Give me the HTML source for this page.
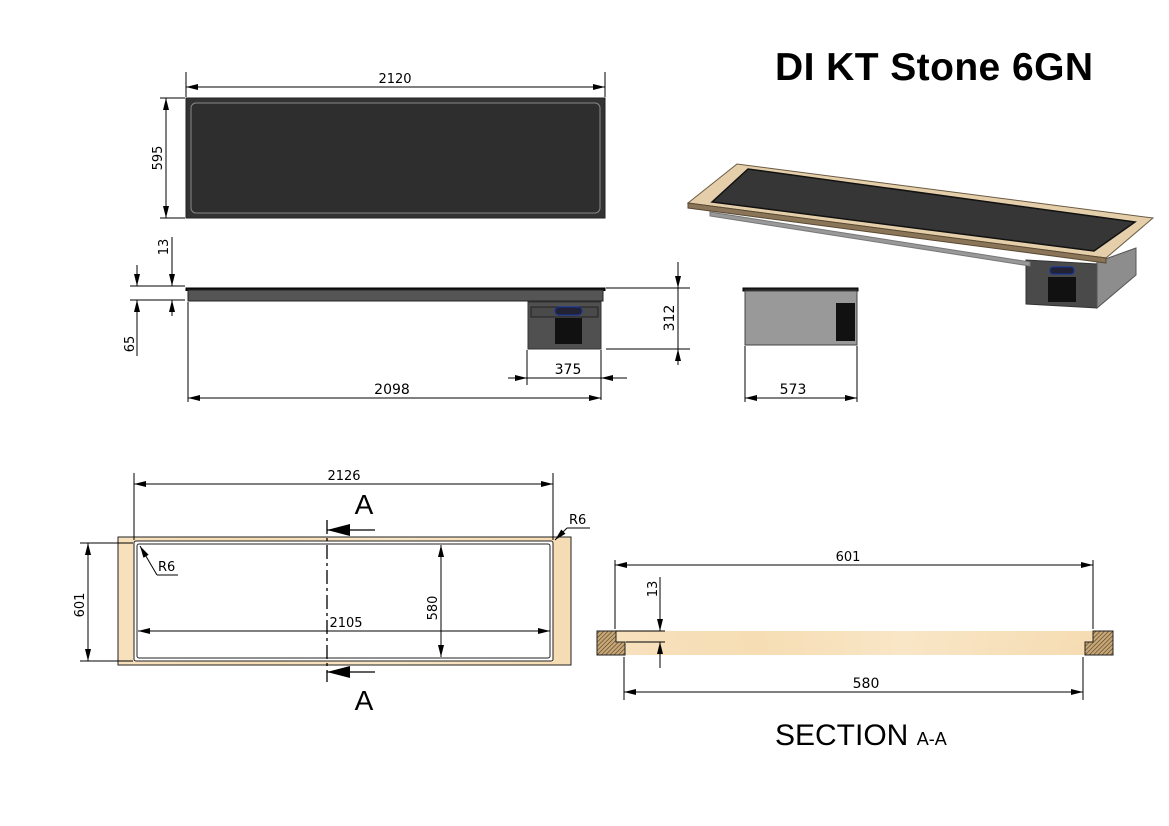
<!DOCTYPE html>
<html><head><style>
body{margin:0;background:#fff;}
svg{display:block;font-family:"DejaVu Sans","Liberation Sans",sans-serif;}
</style></head><body>
<svg width="1169" height="826" viewBox="0 0 1169 826" xmlns="http://www.w3.org/2000/svg">
<defs>
<marker id="ar" viewBox="0 0 12 6" refX="12" refY="3" markerWidth="12" markerHeight="6" orient="auto-start-reverse" markerUnits="userSpaceOnUse"><path d="M0,0L12,3L0,6z" fill="#000"/></marker>
<pattern id="hatch" width="3" height="3" patternUnits="userSpaceOnUse" patternTransform="rotate(45)"><rect width="3" height="3" fill="#c9a878"/><line x1="0" y1="0" x2="0" y2="3" stroke="#4a3a20" stroke-width="1.2"/></pattern>
<linearGradient id="wood" x1="0" x2="1"><stop offset="0" stop-color="#f7e0bc"/><stop offset="0.3" stop-color="#f6ddb4"/><stop offset="0.6" stop-color="#f9e6c6"/><stop offset="1" stop-color="#f5dcb3"/></linearGradient>
</defs>
<g stroke="#000" stroke-width="1" fill="none">
<text x="775" y="80" font-family="Liberation Sans,sans-serif" font-weight="bold" font-size="39" textLength="318" fill="#000" stroke="none">DI KT Stone 6GN</text>

<!-- Top view -->
<rect x="186" y="98" width="419" height="120" fill="#333" stroke="#222"/>
<rect x="191" y="103" width="409" height="110" rx="5" fill="#2e2e2e" stroke="#888"/>
<line x1="186" y1="72" x2="186" y2="97"/><line x1="605" y1="72" x2="605" y2="97"/>
<line x1="186" y1="87" x2="605" y2="87" marker-start="url(#ar)" marker-end="url(#ar)"/>
<text x="395" y="83" font-size="13" text-anchor="middle" fill="#000" stroke="none">2120</text>
<line x1="160" y1="98" x2="185" y2="98"/><line x1="160" y1="218" x2="185" y2="218"/>
<line x1="166" y1="98" x2="166" y2="218" marker-start="url(#ar)" marker-end="url(#ar)"/>
<text transform="translate(162,158) rotate(-90)" font-size="13" text-anchor="middle" fill="#000" stroke="none">595</text>

<!-- Side view -->
<rect x="186" y="288" width="419" height="2.5" fill="#111"/>
<rect x="188" y="290" width="415" height="11" fill="#555" stroke="#222"/>
<rect x="528" y="302" width="73" height="47" fill="#505050" stroke="#333"/>
<rect x="531" y="307" width="67" height="10" fill="#4a4a4a" stroke="#222"/>
<rect x="555" y="307" width="27" height="8" rx="4" fill="#223" stroke="#13a"/>
<rect x="555" y="318" width="27" height="26" fill="#111" stroke="none"/>
<line x1="606" y1="288" x2="690" y2="288"/><line x1="606" y1="349" x2="690" y2="349"/>
<line x1="678" y1="262" x2="678" y2="288" marker-end="url(#ar)"/>
<line x1="678" y1="365" x2="678" y2="349" marker-end="url(#ar)"/>
<line x1="678" y1="288" x2="678" y2="349"/>
<text transform="translate(674,318) rotate(-90)" font-size="14" text-anchor="middle" fill="#000" stroke="none">312</text>
<line x1="527" y1="350" x2="527" y2="385"/><line x1="601" y1="350" x2="601" y2="400"/>
<line x1="508" y1="378" x2="527" y2="378" marker-end="url(#ar)"/>
<line x1="627" y1="378" x2="601" y2="378" marker-end="url(#ar)"/>
<line x1="527" y1="378" x2="601" y2="378"/>
<text x="568" y="374" font-size="14" text-anchor="middle" fill="#000" stroke="none">375</text>
<line x1="188" y1="302" x2="188" y2="402"/>
<line x1="188" y1="398" x2="601" y2="398" marker-start="url(#ar)" marker-end="url(#ar)"/>
<text x="392" y="394" font-size="14" text-anchor="middle" fill="#000" stroke="none">2098</text>
<line x1="130" y1="286" x2="185" y2="286"/><line x1="130" y1="300" x2="185" y2="300"/>
<line x1="172" y1="237" x2="172" y2="286" marker-end="url(#ar)"/>
<line x1="172" y1="316" x2="172" y2="300" marker-end="url(#ar)"/>
<text transform="translate(168,247) rotate(-90)" font-size="13" text-anchor="middle" fill="#000" stroke="none">13</text>
<line x1="137" y1="265" x2="137" y2="286" marker-end="url(#ar)"/>
<line x1="137" y1="356" x2="137" y2="300" marker-end="url(#ar)"/>
<text transform="translate(134,344) rotate(-90)" font-size="13" text-anchor="middle" fill="#000" stroke="none">65</text>

<!-- End view -->
<rect x="743" y="288" width="115" height="3" fill="#222"/>
<rect x="745" y="291" width="112" height="54" fill="#999" stroke="#444"/>
<rect x="836" y="303" width="19" height="38" fill="#111" stroke="none"/>
<line x1="745" y1="346" x2="745" y2="402"/><line x1="857" y1="346" x2="857" y2="402"/>
<line x1="745" y1="398" x2="857" y2="398" marker-start="url(#ar)" marker-end="url(#ar)"/>
<text x="793" y="394" font-size="14" text-anchor="middle" fill="#000" stroke="none">573</text>

<!-- 3D view -->
<polygon points="1026,260 1097,264 1097,308 1026,304" fill="#4a4a4a" stroke="#333"/>
<polygon points="1097,262 1136,248 1136,275 1097,308" fill="#8d8d8d" stroke="#555"/>
<rect x="1048" y="277" width="28" height="25" fill="#111" stroke="none"/>
<rect x="1050" y="267" width="24" height="7" rx="3" fill="#223" stroke="#13a"/>
<polygon points="710,212 1030,262 1030,266 710,216" fill="#999" stroke="#777"/>
<polygon points="688,203 737,164 1153,218 1106,258" fill="#e5cfaa" stroke="#6a5a44"/>
<polygon points="688,203 1106,258 1106,263 688,208" fill="#8a7558" stroke="#5a4a34"/>
<polygon points="712,202 748,169 1135,222 1094,251" fill="#363636" stroke="#111" stroke-width="1.5"/>

<!-- Bottom frame plan -->
<rect x="118" y="537" width="453" height="128" fill="url(#wood)" stroke="#222"/>
<rect x="134" y="541" width="419" height="120" rx="2" fill="#fff" stroke="#222"/>
<rect x="137" y="544" width="413" height="114" rx="2" fill="none" stroke="#222"/>
<line x1="134" y1="473" x2="134" y2="540"/><line x1="553" y1="473" x2="553" y2="540"/>
<line x1="134" y1="484" x2="553" y2="484" marker-start="url(#ar)" marker-end="url(#ar)"/>
<text x="344" y="480" font-size="13" text-anchor="middle" fill="#000" stroke="none">2126</text>
<line x1="80" y1="543" x2="133" y2="543"/><line x1="80" y1="661" x2="133" y2="661"/>
<line x1="88" y1="543" x2="88" y2="661" marker-start="url(#ar)" marker-end="url(#ar)"/>
<text transform="translate(84,605) rotate(-90)" font-size="13" text-anchor="middle" fill="#000" stroke="none">601</text>
<line x1="441" y1="545" x2="441" y2="657" marker-start="url(#ar)" marker-end="url(#ar)"/>
<text transform="translate(437,608) rotate(-90)" font-size="13" text-anchor="middle" fill="#000" stroke="none">580</text>
<line x1="138" y1="631" x2="550" y2="631" marker-start="url(#ar)" marker-end="url(#ar)"/>
<text x="346" y="627" font-size="13" text-anchor="middle" fill="#000" stroke="none">2105</text>
<line x1="327" y1="520" x2="327" y2="682" stroke-dasharray="14,4,3,4" stroke-width="1.3"/>
<polygon points="327,530 350,524 350,536" fill="#000" stroke="none"/>
<line x1="327" y1="530" x2="375" y2="530" stroke-width="1.3"/>
<polygon points="327,672 350,666 350,678" fill="#000" stroke="none"/>
<line x1="327" y1="672" x2="375" y2="672" stroke-width="1.3"/>
<text x="364" y="514" font-size="28" text-anchor="middle" fill="#000" stroke="none" font-family="Liberation Sans,sans-serif">A</text>
<text x="364" y="710" font-size="28" text-anchor="middle" fill="#000" stroke="none" font-family="Liberation Sans,sans-serif">A</text>
<line x1="157" y1="575" x2="140" y2="546" marker-end="url(#ar)"/>
<line x1="157" y1="575" x2="178" y2="575"/>
<text x="158" y="571" font-size="13" fill="#000" stroke="none">R6</text>
<line x1="567" y1="528" x2="555" y2="540" marker-end="url(#ar)"/>
<line x1="567" y1="528" x2="590" y2="528"/>
<text x="569" y="524" font-size="13" fill="#000" stroke="none">R6</text>

<!-- Section -->
<rect x="616" y="631" width="477" height="11" fill="url(#wood)" stroke="none"/>
<rect x="624" y="642" width="461" height="13" fill="url(#wood)" stroke="none"/>
<polygon points="597,631 616,631 616,642 625,642 625,655 597,655" fill="url(#hatch)" stroke="#222"/>
<polygon points="1093,631 1113,631 1113,655 1085,655 1085,642 1093,642" fill="url(#hatch)" stroke="#222"/>
<line x1="615" y1="560" x2="615" y2="629"/><line x1="1093" y1="560" x2="1093" y2="629"/>
<line x1="615" y1="565" x2="1093" y2="565" marker-start="url(#ar)" marker-end="url(#ar)"/>
<text x="848" y="561" font-size="13" text-anchor="middle" fill="#000" stroke="none">601</text>
<line x1="616" y1="631" x2="665" y2="631"/><line x1="626" y1="642" x2="665" y2="642"/>
<line x1="660" y1="577" x2="660" y2="631" marker-end="url(#ar)"/>
<line x1="660" y1="668" x2="660" y2="642" marker-end="url(#ar)"/>
<text transform="translate(657,589) rotate(-90)" font-size="13" text-anchor="middle" fill="#000" stroke="none">13</text>
<line x1="624" y1="657" x2="624" y2="700"/><line x1="1083" y1="657" x2="1083" y2="700"/>
<line x1="624" y1="692" x2="1083" y2="692" marker-start="url(#ar)" marker-end="url(#ar)"/>
<text x="866" y="688" font-size="14" text-anchor="middle" fill="#000" stroke="none">580</text>
<text x="775" y="745" font-size="30" fill="#000" stroke="none" font-family="Liberation Sans,sans-serif">SECTION <tspan font-size="18">A-A</tspan></text>
</g>
</svg>
</body></html>
